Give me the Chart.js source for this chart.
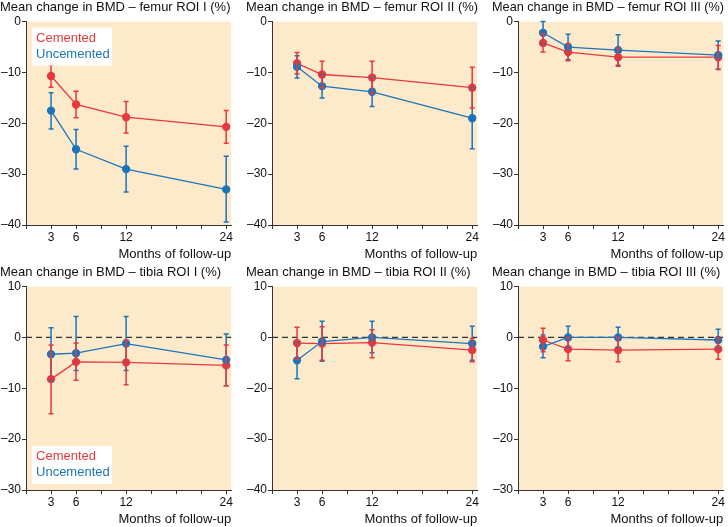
<!DOCTYPE html><html><head><meta charset="utf-8">
<script src="https://cdn.jsdelivr.net/npm/chart.js@4"></script>
<style>body{margin:0;background:#fff}canvas{position:absolute}</style></head><body>
<script>
const months=[3,6,12,24];
const titles=["Mean change in BMD – femur ROI I (%)","Mean change in BMD – femur ROI II (%)","Mean change in BMD – femur ROI III (%)","Mean change in BMD – tibia ROI I (%)","Mean change in BMD – tibia ROI II (%)","Mean change in BMD – tibia ROI III (%)"];
const cemMean=[[-10.7,-16.3,-18.8,-20.7],[-8.2,-10.4,-11,-13],[-4.2,-6,-7,-7],[-8.2,-4.8,-4.9,-5.5],[-1.1,-1.2,-1,-2.5],[-0.5,-2.3,-2.5,-2.3]];
const cemHi=[[-8.6,-13.7,-15.7,-17.5],[-6.1,-7.8,-7.8,-9],[-2.4,-4.3,-5.2,-4.7],[-1.5,-1.1,-0.5,-1.5],[2,2.1,1.5,-0.2],[1.8,0,0,0]];
const cemLo=[[-12.9,-18.9,-21.9,-23.9],[-10.3,-13,-14.2,-17],[-6,-7.7,-8.8,-9.3],[-15,-8.4,-9.3,-9.5],[-4.3,-4.5,-4,-4.8],[-2.8,-4.6,-4.8,-4.3]];
const uncMean=[[-17.5,-25.1,-29,-33],[-8.9,-12.7,-13.8,-19],[-2.2,-5,-5.6,-6.6],[-3.3,-3.1,-1.2,-4.4],[-4.5,-0.8,0,-1.2],[-1.8,0,0,-0.5]];
const uncHi=[[-14,-21.2,-24.5,-26.5],[-6.7,-10.4,-10.9,-13],[0,-2.5,-2.6,-3.8],[1.9,4.1,4.1,0.7],[-1,3.2,3.2,2.2],[0.5,2.2,2,1.6]];
const uncLo=[[-21.1,-29,-33.5,-39.4],[-11.1,-15,-16.7,-25],[-4.4,-7.5,-8.6,-9.4],[-8.5,-6.5,-6.5,-9.5],[-8.1,-4.7,-3,-4.5],[-4,-2,-2,-2]];
const yMin=[-40,-40,-40,-30,-30,-30], yMax=[0,0,0,10,10,10];
const yLabels=[["0","–10","–20","–30","–40"],["0","–10","–20","–30","–40"],["0","–10","–20","–30","–40"],["10","0","–10","–20","–30"],["10","0","–20","–30","–40"],["10","0","–10","–20","–30"]];
const xLabels=[3,6,12,24];
const RED="#e8383d",BLUE="#1a75bb";
const extras={id:"extras",
 beforeDraw(c,a,o){const {ctx,chartArea:ca}=c;ctx.save();ctx.fillStyle="#fdeacb";ctx.fillRect(ca.left,ca.top,ca.right-ca.left,ca.bottom-ca.top);
  if(o.zero){const y=c.scales.y.getPixelForValue(0);ctx.strokeStyle="#333";ctx.setLineDash([6,4]);ctx.lineWidth=1.2;ctx.beginPath();ctx.moveTo(ca.left,y);ctx.lineTo(ca.right,y);ctx.stroke();}
  ctx.restore();},
 afterDatasetsDraw(c,a,o){const {ctx}=c;const xs=c.scales.x,ys=c.scales.y;ctx.save();
  o.err.forEach((e,di)=>{ctx.strokeStyle=e.color;ctx.lineWidth=1.5;
   months.forEach((m,i)=>{const x=xs.getPixelForValue(m),y1=ys.getPixelForValue(e.hi[i]),y2=ys.getPixelForValue(e.lo[i]);
    ctx.beginPath();ctx.moveTo(x,y1);ctx.lineTo(x,y2);ctx.moveTo(x-2.5,y1);ctx.lineTo(x+2.5,y1);ctx.moveTo(x-2.5,y2);ctx.lineTo(x+2.5,y2);ctx.stroke();});});
  if(o.legend){const ca=c.chartArea;const lx=ca.left+6,ly=o.legend==="top"?ca.top+6:ca.bottom-44;
   ctx.fillStyle="#fff";ctx.fillRect(lx,ly,80,38);ctx.font="13px Arial, Liberation Sans";ctx.textBaseline="top";
   ctx.fillStyle=RED;ctx.fillText("Cemented",lx+4,ly+4);ctx.fillStyle=BLUE;ctx.fillText("Uncemented",lx+4,ly+20);}
  ctx.restore();}};
Chart.register(extras);
for(let p=0;p<6;p++){
 const cv=document.createElement("canvas");const col=p%3,row=Math.floor(p/3);
 cv.style.left=(col*246)+"px";cv.style.top=(row*265)+"px";cv.style.width="236px";cv.style.height="262px";
 document.body.appendChild(cv);
 const ds=(lab,mean,color)=>({label:lab,data:months.map((m,i)=>({x:m,y:mean[i]})),borderColor:color,backgroundColor:color,borderWidth:1.3,pointRadius:3.5,pointHoverRadius:3.5});
 new Chart(cv,{type:"line",data:{datasets:[ds("Uncemented",uncMean[p],BLUE),ds("Cemented",cemMean[p],RED)]},
  options:{responsive:false,animation:false,devicePixelRatio:1,
   layout:{padding:{left:0,right:4,top:0,bottom:0}},
   plugins:{legend:{display:false},tooltip:{enabled:false},
    title:{display:true,text:titles[p],align:"start",color:"#111",font:{size:13,family:"Arial, Liberation Sans",weight:"normal"},padding:{top:0,bottom:6}},
    extras:{zero:row===1,legend:p===0?"top":(p===3?"bottom":null),err:[{color:BLUE,hi:uncHi[p],lo:uncLo[p]},{color:RED,hi:cemHi[p],lo:cemLo[p]}]}},
   scales:{
    x:{type:"linear",min:0,max:24.6,grid:{display:true,drawOnChartArea:false,tickLength:4,color:"#333"},border:{color:"#333"},
     afterBuildTicks(s){s.ticks=[0,3,6,9,12,15,18,21,24].map(v=>({value:v}));},
     ticks:{autoSkip:false,color:"#111",font:{size:12,family:"Arial, Liberation Sans"},padding:1,callback:v=>xLabels.includes(v)?String(v):""},
     title:{display:true,text:"Months of follow-up",align:"end",color:"#111",font:{size:13,family:"Arial, Liberation Sans"},padding:{top:1,bottom:0}}},
    y:{min:yMin[p],max:yMax[p],grid:{display:true,drawOnChartArea:false,tickLength:4,color:"#333"},border:{color:"#333"},
     ticks:{stepSize:10,color:"#111",font:{size:12,family:"Arial, Liberation Sans"},padding:1,
      callback:(v)=>{const i=Math.round((yMax[p]-v)/10);return yLabels[p][i];}}}}}});
}
</script></body></html>
